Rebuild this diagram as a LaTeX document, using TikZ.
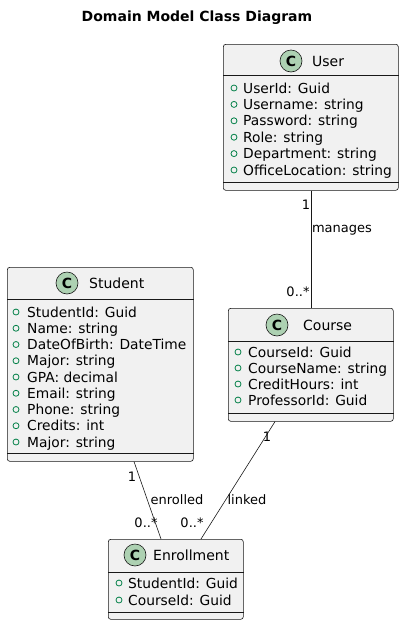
\documentclass[tikz,border=0pt]{standalone}
\usepackage{fontspec}
\setmainfont{DejaVu Sans}
\usetikzlibrary{calc}
\definecolor{boxfill}{HTML}{F1F1F1}
\definecolor{boxline}{HTML}{181818}
\definecolor{iconfill}{HTML}{ADD1B2}
\definecolor{attrgreen}{HTML}{038048}
\begin{document}
\begin{tikzpicture}[x=1pt,y=-1pt,
  classbox/.style={draw=boxline, fill=boxfill, rounded corners=2.5pt, line width=0.6pt, anchor=north west, inner sep=0},
  icon/.style={circle, draw=boxline, fill=iconfill, minimum size=22pt, inner sep=0, font=\fontsize{14}{14}\selectfont\bfseries, line width=0.6pt},
  cname/.style={anchor=west, inner sep=0, text height=13pt, text depth=3pt, font=\fontsize{14}{16}\selectfont},
  attr/.style={anchor=west, inner sep=0, text height=13pt, text depth=3pt, font=\fontsize{13.8}{16}\selectfont},
  attrdot/.style={circle, draw=attrgreen, minimum size=6pt, inner sep=0, line width=0.8pt},
  lbl/.style={inner sep=0, text height=12pt, text depth=2.5pt, font=\fontsize{13}{15}\selectfont},
  sep/.style={draw=boxline, line width=0.6pt},
  assoc/.style={draw=boxline, line width=0.6pt}]
\useasboundingbox[fill=white] (0,0) rectangle (404,625);

\node[inner sep=0, font=\fontsize{14}{16}\selectfont\bfseries] (title) at (197,18) {Domain Model Class Diagram};

% User
\node[classbox, minimum width=175pt, minimum height=146pt] (user) at (223,44) {};
\draw[sep] (user.west |- 0,75) -- (user.east |- 0,75);
\draw[sep] (user.west |- 0,182) -- (user.east |- 0,182);
\node[icon] (usericon) at (291,61) {C};
\node[cname] (username) at (312,61) {User};
\node[attrdot] (ud1) at (234,88) {};
\node[attr] (ua1) at (243,88) {UserId: Guid};
\node[attrdot] (ud2) at (234,104.4) {};
\node[attr] (ua2) at (243,104.4) {Username: string};
\node[attrdot] (ud3) at (234,120.8) {};
\node[attr] (ua3) at (243,120.8) {Password: string};
\node[attrdot] (ud4) at (234,137.2) {};
\node[attr] (ua4) at (243,137.2) {Role: string};
\node[attrdot] (ud5) at (234,153.6) {};
\node[attr] (ua5) at (243,153.6) {Department: string};
\node[attrdot] (ud6) at (234,170) {};
\node[attr] (ua6) at (243,170) {OfficeLocation: string};

% Student
\node[classbox, minimum width=186pt, minimum height=194pt] (student) at (7,267) {};
\draw[sep] (student.west |- 0,299) -- (student.east |- 0,299);
\draw[sep] (student.west |- 0,453) -- (student.east |- 0,453);
\node[icon] (studenticon) at (67,283) {C};
\node[cname] (studentname) at (89,283) {Student};
\node[attrdot] (sd1) at (16,312) {};
\node[attr] (sa1) at (27,312) {StudentId: Guid};
\node[attrdot] (sd2) at (16,328.25) {};
\node[attr] (sa2) at (27,328.25) {Name: string};
\node[attrdot] (sd3) at (16,344.5) {};
\node[attr] (sa3) at (27,344.5) {DateOfBirth: DateTime};
\node[attrdot] (sd4) at (16,360.75) {};
\node[attr] (sa4) at (27,360.75) {Major: string};
\node[attrdot] (sd5) at (16,377) {};
\node[attr] (sa5) at (27,377) {GPA: decimal};
\node[attrdot] (sd6) at (16,393.25) {};
\node[attr] (sa6) at (27,393.25) {Email: string};
\node[attrdot] (sd7) at (16,409.5) {};
\node[attr] (sa7) at (27,409.5) {Phone: string};
\node[attrdot] (sd8) at (16,425.75) {};
\node[attr] (sa8) at (27,425.75) {Credits: int};
\node[attrdot] (sd9) at (16,442) {};
\node[attr] (sa9) at (27,442) {Major: string};

% Course
\node[classbox, minimum width=165pt, minimum height=113pt] (course) at (228,308) {};
\draw[sep] (course.west |- 0,341) -- (course.east |- 0,341);
\draw[sep] (course.west |- 0,413) -- (course.east |- 0,413);
\node[icon] (courseicon) at (277,325) {C};
\node[cname] (coursename) at (303,325) {Course};
\node[attrdot] (cd1) at (238,352) {};
\node[attr] (ca1) at (248,352) {CourseId: Guid};
\node[attrdot] (cd2) at (238,368) {};
\node[attr] (ca2) at (248,368) {CourseName: string};
\node[attrdot] (cd3) at (238,384) {};
\node[attr] (ca3) at (248,384) {CreditHours: int};
\node[attrdot] (cd4) at (238,400) {};
\node[attr] (ca4) at (248,400) {ProfessorId: Guid};

% Enrollment
\node[classbox, minimum width=135pt, minimum height=80pt] (enroll) at (108,539) {};
\draw[sep] (enroll.west |- 0,572) -- (enroll.east |- 0,572);
\draw[sep] (enroll.west |- 0,612) -- (enroll.east |- 0,612);
\node[icon] (enrollicon) at (135,555) {C};
\node[cname] (enrollname) at (153,555) {Enrollment};
\node[attrdot] (ed1) at (119,583) {};
\node[attr] (ea1) at (128,583) {StudentId: Guid};
\node[attrdot] (ed2) at (119,600) {};
\node[attr] (ea2) at (128,600) {CourseId: Guid};

% Associations
\draw[assoc] (user.south) -- (course.north);
\draw[assoc] ($(student.south west)+(127,0)$) -- ($(enroll.north west)+(53,0)$);
\draw[assoc] ($(course.south west)+(47,0)$) -- ($(enroll.north west)+(93,0)$);

% Labels
\node[lbl] (l1) at (306,205) {1};
\node[lbl] (l2) at (342,228) {manages};
\node[lbl] (l3) at (298,292) {0..*};
\node[lbl] (l4) at (132,477) {1};
\node[lbl] (l5) at (177,500) {enrolled};
\node[lbl] (l6) at (146,523) {0..*};
\node[lbl] (l7) at (267,437) {1};
\node[lbl] (l8) at (247,500) {linked};
\node[lbl] (l9) at (192,523) {0..*};
\end{tikzpicture}
\end{document}
